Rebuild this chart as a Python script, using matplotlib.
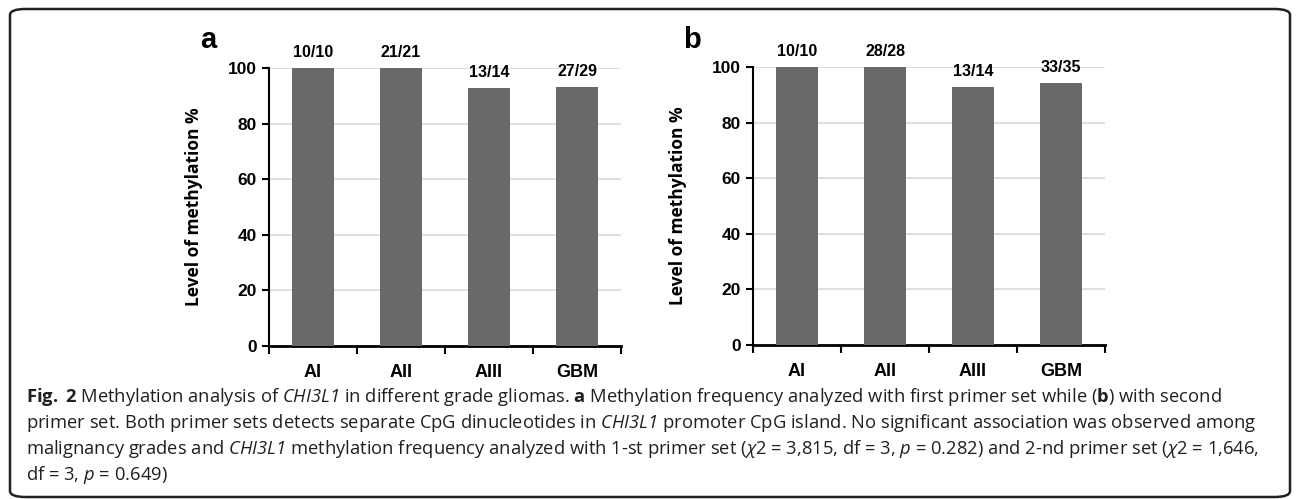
import matplotlib
matplotlib.use("Agg")
import matplotlib.pyplot as plt
from matplotlib.patches import FancyBboxPatch

# data
grades = ["AI", "AII", "AIII", "GBM"]
methylated_a = [10, 21, 13, 27]
total_a = [10, 21, 14, 29]
methylated_b = [10, 28, 13, 33]
total_b = [10, 28, 14, 35]

caption_lines = [
    r"$\mathbf{Fig.}$ $\mathbf{2}$ Methylation analysis of $\mathit{CHI3L1}$ in different grade gliomas. "
    r"$\mathbf{a}$ Methylation frequency analyzed with first primer set while ($\mathbf{b}$) with second",
    r"primer set. Both primer sets detects separate CpG dinucleotides in $\mathit{CHI3L1}$ promoter "
    r"CpG island. No significant association was observed among",
    r"malignancy grades and $\mathit{CHI3L1}$ methylation frequency analyzed with 1-st primer set "
    r"($\chi$2 = 3,815, df = 3, $p$ = 0.282) and 2-nd primer set ($\chi$2 = 1,646,",
    r"df = 3, $p$ = 0.649)",
]

# math parts of the caption are only italics and bold, so digits inside \mathit come out slanted
plt.rcParams["mathtext.fontset"] = "custom"
plt.rcParams["mathtext.rm"] = "Open Sans:italic"
plt.rcParams["mathtext.it"] = "Open Sans:italic"
plt.rcParams["mathtext.bf"] = "Open Sans:bold"

chart_font = "Liberation Sans"
W, H = 1296, 499
fig = plt.figure(figsize=(W / 100, H / 100), dpi=100)


def draw_panel(left_px, top_px, letter, methylated, total):
    ax = fig.add_axes([left_px / W, 1 - (top_px + 278) / H, 352 / W, 278 / H])
    pct = [100 * m / t for m, t in zip(methylated, total)]
    x = list(range(len(grades)))
    bars = ax.bar(x, pct, width=0.47, color="#696969", zorder=3)
    for b, m, t in zip(bars, methylated, total):
        ax.annotate(f"{m}/{t}", (b.get_x() + b.get_width() / 2, b.get_height()),
                    xytext=(0, 6), textcoords="offset points", ha="center", va="bottom",
                    fontsize=11.5, fontweight="bold", family=chart_font, annotation_clip=False)
    ax.set_xlim(-0.5, 3.5)
    ax.set_ylim(0, 100)
    ax.set_yticks(range(0, 101, 20))
    ax.yaxis.grid(True, color="#d9d9d9", lw=1.2, zorder=0)
    ax.set_xticks(x)
    ax.set_xticklabels(grades)
    ax.set_xticks([-0.5, 0.5, 1.5, 2.5, 3.5], minor=True)
    ax.tick_params(axis="x", which="major", length=0, pad=13)
    ax.tick_params(axis="x", which="minor", length=6, width=1.5, direction="out")
    ax.tick_params(axis="y", length=5, width=1.5, direction="out", pad=4)
    for lab in ax.get_xticklabels():
        lab.set_fontsize(13)
        lab.set_fontweight("bold")
        lab.set_family(chart_font)
    for lab in ax.get_yticklabels():
        lab.set_fontsize(12.5)
        lab.set_fontweight("bold")
        lab.set_family(chart_font)
    for s in ["top", "right"]:
        ax.spines[s].set_visible(False)
    ax.spines["left"].set_linewidth(1.5)
    ax.spines["bottom"].set_linewidth(2)
    ax.set_ylabel("Level of methylation %", fontsize=12.5, fontweight="bold", family="Open Sans")
    ax.yaxis.set_label_coords(-66 / 352, 0.5)
    fig.text((left_px - 61) / W, 1 - 40 / H, letter, fontsize=21, fontweight="bold",
             family=chart_font, ha="center", va="center")
    return ax


draw_panel(269, 68, "a", methylated_a, total_a)
draw_panel(753, 67, "b", methylated_b, total_b)

# caption, baselines every ~26 px
for i, line in enumerate(caption_lines):
    fig.text(26 / W, 1 - (402 + 26 * i) / H, line, fontsize=13.2, family="Open Sans",
             color="#231f20", ha="left", va="baseline")

# rounded frame around the figure
frame = FancyBboxPatch((10 / W, 2 / H), 1280 / W, 488 / H,
                       boxstyle="round,pad=0,rounding_size=0.012",
                       transform=fig.transFigure, fill=False, lw=1.8, ec="#222222")
fig.patches.append(frame)

fig.savefig("out.png", dpi=100)
